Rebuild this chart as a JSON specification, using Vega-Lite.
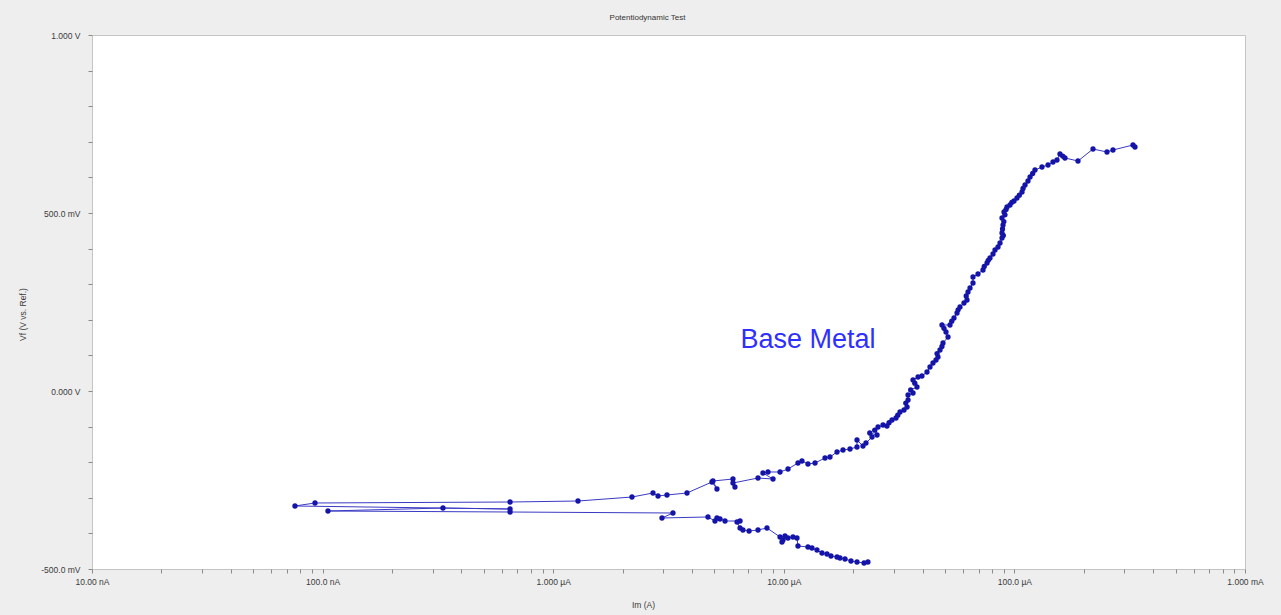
{
  "$schema": "https://vega.github.io/schema/vega-lite/v6.json",
  "width": 1153,
  "height": 534,
  "autosize": "none",
  "padding": {"left": 92, "top": 35, "right": 36, "bottom": 46},
  "background": "#eeeeee",
  "title": {"text": "Potentiodynamic Test", "fontSize": 8, "color": "#333333", "font": "Liberation Sans", "fontWeight": "normal", "anchor": "middle", "dx": -21, "offset": 5, "baseline": "middle"},
  "config": {
    "view": {"fill": "white", "stroke": "#c4c4c4", "strokeWidth": 1},
    "axis": {"grid": false, "domain": false, "tickColor": "#8a8a8a", "tickSize": 4, "labelFont": "Liberation Sans", "labelFontSize": 8.5, "labelColor": "#3a3a3a", "titleFont": "Liberation Sans", "titleFontSize": 8.5, "titleFontWeight": "normal", "titleColor": "#3a3a3a", "labelOverlap": false, "labelFlush": false}
  },
  "datasets": {
    "scan": [
      {"i": 1, "I": 2.317e-5, "V": -0.4803},
      {"i": 2, "I": 2.228e-5, "V": -0.4831},
      {"i": 3, "I": 2.077e-5, "V": -0.4803},
      {"i": 4, "I": 1.956e-5, "V": -0.4775},
      {"i": 5, "I": 1.843e-5, "V": -0.4719},
      {"i": 6, "I": 1.753e-5, "V": -0.4691},
      {"i": 7, "I": 1.701e-5, "V": -0.4663},
      {"i": 8, "I": 1.602e-5, "V": -0.4635},
      {"i": 9, "I": 1.539e-5, "V": -0.4579},
      {"i": 10, "I": 1.464e-5, "V": -0.4551},
      {"i": 11, "I": 1.393e-5, "V": -0.4466},
      {"i": 12, "I": 1.325e-5, "V": -0.4410},
      {"i": 13, "I": 1.273e-5, "V": -0.4382},
      {"i": 14, "I": 1.152e-5, "V": -0.4354},
      {"i": 15, "I": 1.141e-5, "V": -0.4129},
      {"i": 16, "I": 1.096e-5, "V": -0.4101},
      {"i": 17, "I": 1.043e-5, "V": -0.4129},
      {"i": 18, "I": 9.92e-6, "V": -0.4185},
      {"i": 19, "I": 9.82e-6, "V": -0.4242},
      {"i": 20, "I": 1.012e-5, "V": -0.4073},
      {"i": 21, "I": 9.63e-6, "V": -0.4101},
      {"i": 22, "I": 8.455e-6, "V": -0.3848},
      {"i": 23, "I": 7.73e-6, "V": -0.3904},
      {"i": 24, "I": 7.07e-6, "V": -0.3933},
      {"i": 25, "I": 6.65e-6, "V": -0.3904},
      {"i": 26, "I": 6.46e-6, "V": -0.3848},
      {"i": 27, "I": 6.27e-6, "V": -0.3680},
      {"i": 28, "I": 6.46e-6, "V": -0.3652},
      {"i": 29, "I": 5.56e-6, "V": -0.3652},
      {"i": 30, "I": 5.29e-6, "V": -0.3596},
      {"i": 31, "I": 5.13e-6, "V": -0.3567},
      {"i": 32, "I": 5.03e-6, "V": -0.3652},
      {"i": 33, "I": 4.69e-6, "V": -0.3539},
      {"i": 34, "I": 2.963e-6, "V": -0.3567},
      {"i": 35, "I": 3.307e-6, "V": -0.3427},
      {"i": 36, "I": 6.50e-7, "V": -0.3399},
      {"i": 37, "I": 1.055e-7, "V": -0.3371},
      {"i": 38, "I": 3.327e-7, "V": -0.3287},
      {"i": 39, "I": 6.50e-7, "V": -0.3315},
      {"i": 40, "I": 7.59e-8, "V": -0.3230},
      {"i": 41, "I": 9.27e-8, "V": -0.3146},
      {"i": 42, "I": 6.50e-7, "V": -0.3118},
      {"i": 43, "I": 1.281e-6, "V": -0.3090},
      {"i": 44, "I": 2.196e-6, "V": -0.2978},
      {"i": 45, "I": 2.709e-6, "V": -0.2865},
      {"i": 46, "I": 2.848e-6, "V": -0.2949},
      {"i": 47, "I": 3.115e-6, "V": -0.2921},
      {"i": 48, "I": 3.804e-6, "V": -0.2865},
      {"i": 49, "I": 4.88e-6, "V": -0.2556},
      {"i": 50, "I": 5.13e-6, "V": -0.2753},
      {"i": 51, "I": 4.93e-6, "V": -0.2528},
      {"i": 52, "I": 6.02e-6, "V": -0.2472},
      {"i": 53, "I": 6.14e-6, "V": -0.2697},
      {"i": 54, "I": 6.02e-6, "V": -0.2584},
      {"i": 55, "I": 7.73e-6, "V": -0.2444},
      {"i": 56, "I": 8.98e-6, "V": -0.2472},
      {"i": 57, "I": 8.12e-6, "V": -0.2303},
      {"i": 58, "I": 8.54e-6, "V": -0.2275},
      {"i": 59, "I": 9.63e-6, "V": -0.2275},
      {"i": 60, "I": 1.043e-5, "V": -0.2191},
      {"i": 61, "I": 1.152e-5, "V": -0.2022},
      {"i": 62, "I": 1.199e-5, "V": -0.1966},
      {"i": 63, "I": 1.273e-5, "V": -0.2051},
      {"i": 64, "I": 1.366e-5, "V": -0.2022},
      {"i": 65, "I": 1.509e-5, "V": -0.1882},
      {"i": 66, "I": 1.586e-5, "V": -0.1854},
      {"i": 67, "I": 1.701e-5, "V": -0.1713},
      {"i": 68, "I": 1.806e-5, "V": -0.1657},
      {"i": 69, "I": 1.937e-5, "V": -0.1629},
      {"i": 70, "I": 2.077e-5, "V": -0.1573},
      {"i": 71, "I": 2.077e-5, "V": -0.1376},
      {"i": 72, "I": 2.205e-5, "V": -0.1545},
      {"i": 73, "I": 2.272e-5, "V": -0.1461},
      {"i": 74, "I": 2.413e-5, "V": -0.1292},
      {"i": 74.5, "I": 2.36e-5, "V": -0.1180},
      {"i": 75, "I": 2.537e-5, "V": -0.1236},
      {"i": 75.5, "I": 2.48e-5, "V": -0.1100},
      {"i": 76, "I": 2.562e-5, "V": -0.1011},
      {"i": 77, "I": 2.693e-5, "V": -0.0955},
      {"i": 78, "I": 2.802e-5, "V": -0.0983},
      {"i": 78.5, "I": 2.86e-5, "V": -0.0890},
      {"i": 79, "I": 2.946e-5, "V": -0.0815},
      {"i": 80, "I": 3.066e-5, "V": -0.0758},
      {"i": 80.5, "I": 3.12e-5, "V": -0.0680},
      {"i": 81, "I": 3.191e-5, "V": -0.0590},
      {"i": 82, "I": 3.321e-5, "V": -0.0534},
      {"i": 83, "I": 3.423e-5, "V": -0.0449},
      {"i": 83.5, "I": 3.38e-5, "V": -0.0340},
      {"i": 84, "I": 3.457e-5, "V": -0.0253},
      {"i": 85, "I": 3.457e-5, "V": -0.0112},
      {"i": 86, "I": 3.634e-5, "V": -0.0056},
      {"i": 86.5, "I": 3.55e-5, "V": 0.0030},
      {"i": 87, "I": 3.781e-5, "V": 0.0112},
      {"i": 87.5, "I": 3.70e-5, "V": 0.0220},
      {"i": 88, "I": 3.634e-5, "V": 0.0309},
      {"i": 89, "I": 3.819e-5, "V": 0.0393},
      {"i": 90, "I": 3.973e-5, "V": 0.0421},
      {"i": 91, "I": 4.178e-5, "V": 0.0534},
      {"i": 92, "I": 4.305e-5, "V": 0.0674},
      {"i": 93, "I": 4.436e-5, "V": 0.0787},
      {"i": 94, "I": 4.571e-5, "V": 0.0871},
      {"i": 95, "I": 4.663e-5, "V": 0.0955},
      {"i": 95.5, "I": 4.62e-5, "V": 0.1050},
      {"i": 96, "I": 4.757e-5, "V": 0.1152},
      {"i": 96.5, "I": 4.85e-5, "V": 0.1250},
      {"i": 97, "I": 4.902e-5, "V": 0.1348},
      {"i": 98, "I": 5.153e-5, "V": 0.1517},
      {"i": 99, "I": 5.051e-5, "V": 0.1657},
      {"i": 99.5, "I": 4.95e-5, "V": 0.1760},
      {"i": 100, "I": 4.853e-5, "V": 0.1854},
      {"i": 101, "I": 5.257e-5, "V": 0.1854},
      {"i": 101.5, "I": 5.35e-5, "V": 0.1960},
      {"i": 102, "I": 5.471e-5, "V": 0.2051},
      {"i": 103, "I": 5.638e-5, "V": 0.2191},
      {"i": 103.5, "I": 5.70e-5, "V": 0.2280},
      {"i": 104, "I": 5.809e-5, "V": 0.2360},
      {"i": 105, "I": 6.045e-5, "V": 0.2472},
      {"i": 106, "I": 6.229e-5, "V": 0.2556},
      {"i": 106.5, "I": 6.18e-5, "V": 0.2670},
      {"i": 107, "I": 6.292e-5, "V": 0.2781},
      {"i": 108, "I": 6.419e-5, "V": 0.2893},
      {"i": 109, "I": 6.614e-5, "V": 0.3034},
      {"i": 110, "I": 6.614e-5, "V": 0.3202},
      {"i": 111, "I": 6.952e-5, "V": 0.3287},
      {"i": 112, "I": 7.308e-5, "V": 0.3399},
      {"i": 112.5, "I": 7.40e-5, "V": 0.3500},
      {"i": 113, "I": 7.607e-5, "V": 0.3596},
      {"i": 113.5, "I": 7.70e-5, "V": 0.3670},
      {"i": 114, "I": 7.838e-5, "V": 0.3736},
      {"i": 115, "I": 8.076e-5, "V": 0.3848},
      {"i": 116, "I": 8.240e-5, "V": 0.3961},
      {"i": 117, "I": 8.490e-5, "V": 0.4045},
      {"i": 118, "I": 8.662e-5, "V": 0.4157},
      {"i": 119, "I": 8.836e-5, "V": 0.4298},
      {"i": 119.5, "I": 8.95e-5, "V": 0.4370},
      {"i": 120, "I": 8.836e-5, "V": 0.4438},
      {"i": 120.5, "I": 8.88e-5, "V": 0.4550},
      {"i": 121, "I": 8.926e-5, "V": 0.4663},
      {"i": 121.5, "I": 9.00e-5, "V": 0.4760},
      {"i": 122, "I": 8.836e-5, "V": 0.4860},
      {"i": 122.5, "I": 9.10e-5, "V": 0.4950},
      {"i": 123, "I": 9.015e-5, "V": 0.5028},
      {"i": 123.5, "I": 9.20e-5, "V": 0.5100},
      {"i": 124, "I": 9.289e-5, "V": 0.5169},
      {"i": 125, "I": 9.570e-5, "V": 0.5225},
      {"i": 125.5, "I": 9.75e-5, "V": 0.5300},
      {"i": 126, "I": 9.961e-5, "V": 0.5337},
      {"i": 127, "I": 1.026e-4, "V": 0.5421},
      {"i": 127.5, "I": 1.05e-4, "V": 0.5500},
      {"i": 128, "I": 1.079e-4, "V": 0.5590},
      {"i": 128.5, "I": 1.09e-4, "V": 0.5690},
      {"i": 129, "I": 1.112e-4, "V": 0.5787},
      {"i": 130, "I": 1.145e-4, "V": 0.5899},
      {"i": 131, "I": 1.169e-4, "V": 0.6011},
      {"i": 131.5, "I": 1.20e-4, "V": 0.6110},
      {"i": 132, "I": 1.228e-4, "V": 0.6208},
      {"i": 133, "I": 1.317e-4, "V": 0.6292},
      {"i": 134, "I": 1.399e-4, "V": 0.6348},
      {"i": 135, "I": 1.470e-4, "V": 0.6433},
      {"i": 136, "I": 1.530e-4, "V": 0.6489},
      {"i": 137, "I": 1.576e-4, "V": 0.6657},
      {"i": 137.5, "I": 1.62e-4, "V": 0.6600},
      {"i": 138, "I": 1.657e-4, "V": 0.6545},
      {"i": 139, "I": 1.887e-4, "V": 0.6461},
      {"i": 140, "I": 2.192e-4, "V": 0.6798},
      {"i": 141, "I": 2.521e-4, "V": 0.6713},
      {"i": 142, "I": 2.676e-4, "V": 0.6770},
      {"i": 143, "I": 3.268e-4, "V": 0.6910},
      {"i": 144, "I": 3.334e-4, "V": 0.6854}
    ],
    "notes": [
      {"I": 1.273e-5, "V": 0.1433, "label": "Base Metal"}
    ]
  },
  "encoding": {
    "x": {"field": "I", "type": "quantitative", "title": "Im (A)",
      "scale": {"type": "log", "domain": [1e-8, 1e-3], "nice": false},
      "axis": {"values": [1e-8, 2e-8, 3e-8, 4e-8, 5e-8, 6e-8, 7e-8, 8e-8, 9e-8, 1e-7, 2e-7, 3e-7, 4e-7, 5e-7, 6e-7, 7e-7, 8e-7, 9e-7, 1e-6, 2e-6, 3e-6, 4e-6, 5e-6, 6e-6, 7e-6, 8e-6, 9e-6, 1e-5, 2e-5, 3e-5, 4e-5, 5e-5, 6e-5, 7e-5, 8e-5, 9e-5, 1e-4, 2e-4, 3e-4, 4e-4, 5e-4, 6e-4, 7e-4, 8e-4, 9e-4, 1e-3],
        "labelExpr": "datum.value==1e-8?'10.00 nA':datum.value==1e-7?'100.0 nA':datum.value==1e-6?'1.000 µA':datum.value==1e-5?'10.00 µA':datum.value==1e-4?'100.0 µA':datum.value==1e-3?'1.000 mA':''",
        "labelPadding": 4, "titleX": 551, "titleY": 35, "titleBaseline": "middle", "titleAnchor": "start", "titleAlign": "center"}},
    "y": {"field": "V", "type": "quantitative", "title": "Vf (V vs. Ref.)",
      "scale": {"domain": [-0.5, 1.0], "nice": false, "zero": false},
      "axis": {"values": [-0.5, -0.4, -0.3, -0.2, -0.1, 0, 0.1, 0.2, 0.3, 0.4, 0.5, 0.6, 0.7, 0.8, 0.9, 1.0],
        "labelExpr": "datum.value==1?'1.000 V':datum.value==0.5?'500.0 mV':datum.value==0?'0.000 V':datum.value==-0.5?'-500.0 mV':''",
        "labelPadding": 8, "titleX": -70, "titleY": 279, "titleAngle": -90, "titleBaseline": "middle", "titleAlign": "center", "titleAnchor": "start"}}
  },
  "layer": [
    {"data": {"name": "scan"}, "mark": {"type": "line", "color": "#3a3ac4", "strokeWidth": 1, "interpolate": "linear"},
      "encoding": {"order": {"field": "i", "type": "quantitative"}}},
    {"data": {"name": "scan"}, "mark": {"type": "point", "filled": true, "color": "#1414a8", "size": 28, "opacity": 1}},
    {"data": {"name": "notes"}, "mark": {"type": "text", "color": "#2f2fff", "fontSize": 27, "font": "Liberation Sans", "align": "center", "baseline": "middle"},
      "encoding": {"text": {"field": "label"}}}
  ]
}
